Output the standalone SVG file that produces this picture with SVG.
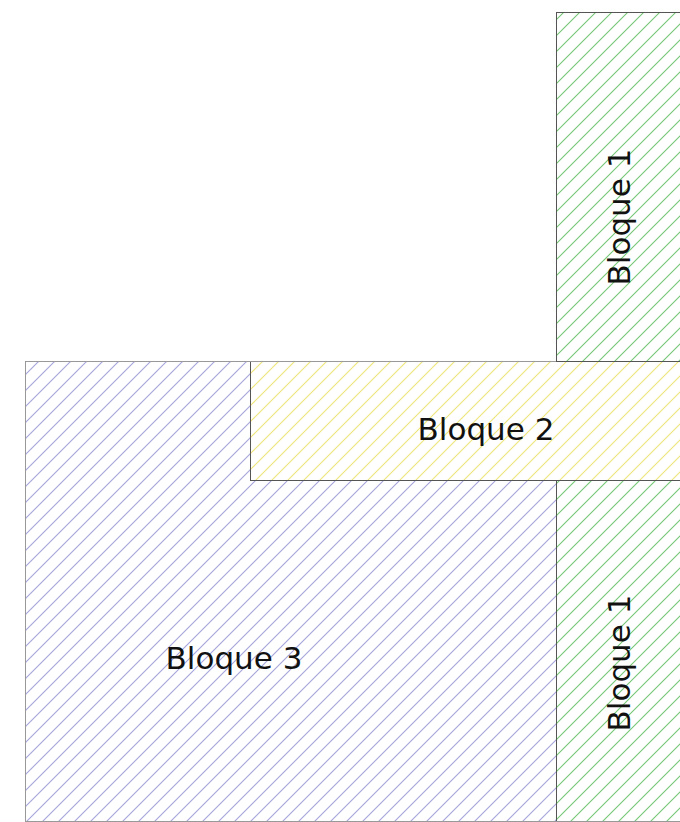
<svg xmlns="http://www.w3.org/2000/svg" width="680" height="822" viewBox="0 0 680 822">
<defs>
<pattern id="hg" width="16" height="16" patternUnits="userSpaceOnUse">
<rect width="16" height="16" fill="#fff"/>
<path d="M-4,4 L4,-4 M0,16 L16,0 M12,20 L20,12" stroke="#74c874" stroke-width="1.1"/>
</pattern>
<pattern id="hy" width="16" height="16" patternUnits="userSpaceOnUse">
<rect width="16" height="16" fill="#fff"/>
<path d="M-4,4 L4,-4 M0,16 L16,0 M12,20 L20,12" stroke="#eee67a" stroke-width="1.1"/>
</pattern>
<pattern id="hp" width="16" height="16" patternUnits="userSpaceOnUse">
<rect width="16" height="16" fill="#fff"/>
<path d="M-4,4 L4,-4 M0,16 L16,0 M12,20 L20,12" stroke="#a4a4dc" stroke-width="1.1"/>
</pattern>
</defs>
<style>
.lbl{font-family:"DejaVu Sans","Liberation Sans",sans-serif;font-size:31px;fill:#111;text-anchor:middle}
</style>
<g id="bloque3">
<rect x="25.5" y="361.5" width="531" height="460" fill="url(#hp)" stroke="#999" stroke-width="1"/>
<text class="lbl" x="234" y="669">Bloque 3</text>
</g>
<g id="bloque1-top">
<rect x="556.5" y="12.5" width="130" height="349" fill="url(#hg)" stroke="#555" stroke-width="1"/>
<text class="lbl" transform="translate(630,217) rotate(-90)">Bloque 1</text>
</g>
<g id="bloque1-bottom">
<rect x="556.5" y="480.5" width="130" height="341" fill="url(#hg)" stroke="#555" stroke-width="1"/>
<line x1="556" y1="821.5" x2="680" y2="821.5" stroke="#999"/>
<text class="lbl" transform="translate(630,663) rotate(-90)">Bloque 1</text>
</g>
<g id="bloque2">
<rect x="250.5" y="361.5" width="436" height="119" fill="url(#hy)" stroke="#555" stroke-width="1"/>
<line x1="250" y1="361.5" x2="556" y2="361.5" stroke="#999"/>
<text class="lbl" x="486" y="440">Bloque 2</text>
</g>
</svg>
